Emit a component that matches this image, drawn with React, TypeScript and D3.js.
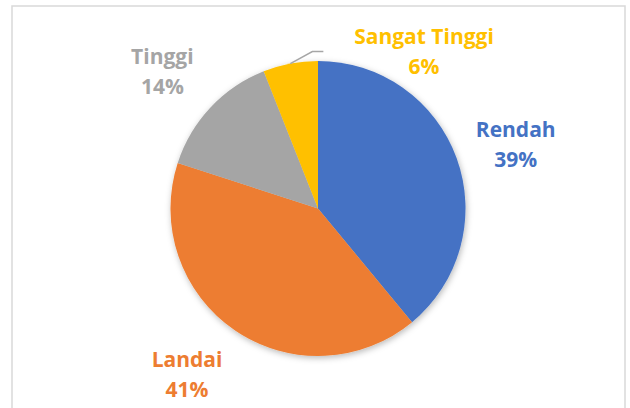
import React from "react";
import * as d3 from "d3";

const categories: string[] = ["Rendah", "Landai", "Tinggi", "Sangat Tinggi"];
const values: number[] = [39, 41, 14, 6];
const percentLabels: string[] = ["39%", "41%", "14%", "6%"];
const colors: string[] = ["#4472C4", "#ED7D31", "#A5A5A5", "#FFC000"];

// label layout nudges (pixels) relative to the outside-end anchor
const labelNudges: [number, number][] = [
  [2, 6],
  [-14, -6.5],
  [-4, 5.5],
  [145, 47.5],
];

const W = 630;
const H = 408;
const cx = 318;
const cy = 208.5;
const R = 147.5;
const labelR = 208;

export default function App() {
  const pie = d3
    .pie<number>()
    .sort(null)
    .value((d) => d)
    .startAngle(0)
    .endAngle(2 * Math.PI);
  const arcs = pie(values);
  const arcGen = d3.arc<d3.PieArcDatum<number>>().innerRadius(0).outerRadius(R);

  const fontFamily = "'Open Sans', 'Noto Sans', sans-serif";

  return (
    <svg
      width={W}
      height={H}
      style={{ position: "absolute", left: 0, top: 0, background: "#fff" }}
    >
      <defs>
        <filter id="pieShadow" x="-20%" y="-20%" width="140%" height="140%">
          <feDropShadow dx="1" dy="2" stdDeviation="3" floodColor="#000" floodOpacity="0.28" />
        </filter>
      </defs>
      <rect x={0} y={0} width={W} height={H} fill="#fff" />
      <rect
        x={12}
        y={6}
        width={613}
        height={420}
        fill="none"
        stroke="#d9d9d9"
        strokeWidth={1.5}
      />
      <g transform={`translate(${cx},${cy})`} filter="url(#pieShadow)">
        {arcs.map((a, i) => (
          <path key={categories[i]} d={arcGen(a) || ""} fill={colors[i]} />
        ))}
      </g>
      {arcs.map((a, i) => {
        const mid = (a.startAngle + a.endAngle) / 2;
        const ax = cx + labelR * Math.sin(mid) + labelNudges[i][0];
        const ay = cy - labelR * Math.cos(mid) + labelNudges[i][1];
        return (
          <text
            key={"l" + categories[i]}
            x={ax}
            textAnchor="middle"
            fill={colors[i]}
            fontFamily={fontFamily}
            fontWeight={700}
            fontSize={21}
          >
            <tspan x={ax} y={ay - 7.25}>
              {categories[i]}
            </tspan>
            <tspan x={ax} y={ay + 22.75}>
              {percentLabels[i]}
            </tspan>
          </text>
        );
      })}
      {(() => {
        // leader line for the small "Sangat Tinggi" slice
        const i = 3;
        const a = arcs[i];
        const mid = (a.startAngle + a.endAngle) / 2;
        const px = cx + R * Math.sin(mid);
        const py = cy - R * Math.cos(mid);
        const elbowX = px + 22;
        const elbowY = py - 12;
        return (
          <polyline
            points={`${px},${py} ${elbowX},${elbowY} ${elbowX + 11},${elbowY}`}
            fill="none"
            stroke="#a6a6a6"
            strokeWidth={1.5}
          />
        );
      })()}
    </svg>
  );
}
